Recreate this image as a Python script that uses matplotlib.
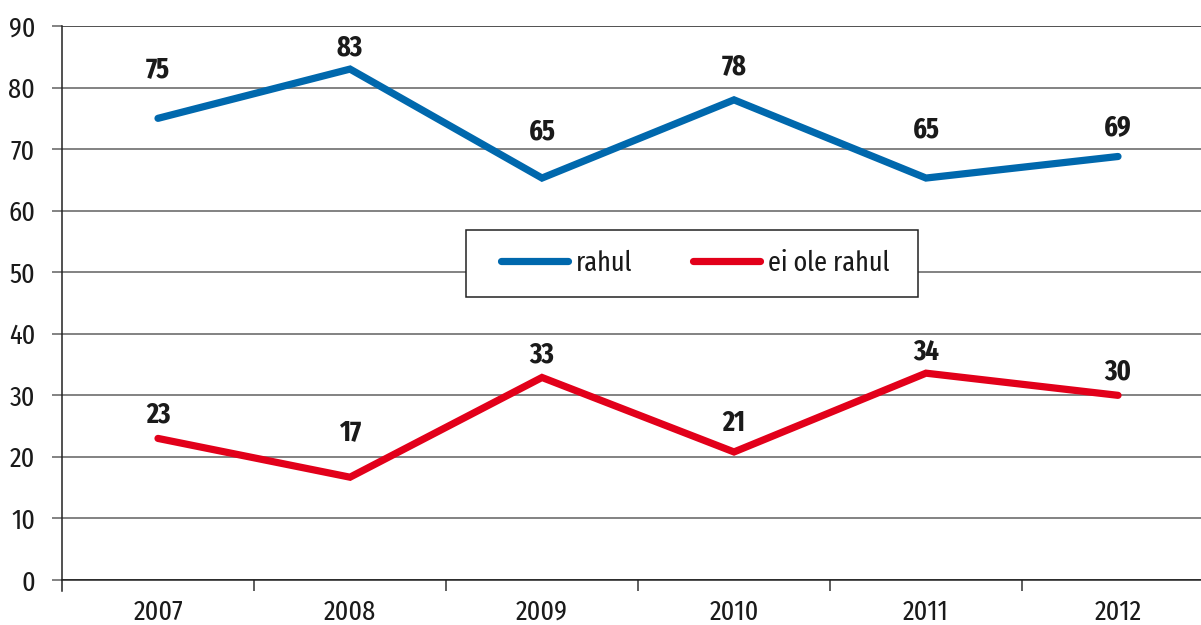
import matplotlib
matplotlib.use("Agg")
import matplotlib.pyplot as plt
from matplotlib.patches import Rectangle

years = ["2007", "2008", "2009", "2010", "2011", "2012"]
rahul = [75, 83, 65.3, 78, 65.3, 68.8]
ei_ole_rahul = [23, 16.7, 32.9, 20.8, 33.6, 30]
series_names = ["rahul", "ei ole rahul"]
y_ticks = [0, 10, 20, 30, 40, 50, 60, 70, 80, 90]

# label offsets above points (pixels)
rahul_label_offsets = [49, 21, 46, 33, 48, 29]
ei_label_offsets = [24, 45, 23, 29, 21, 24]

plt.rcParams['font.family'] = ['Fira Sans Extra Condensed', 'DejaVu Sans']
FS = 20.5

W, H = 1201, 625
fig = plt.figure(figsize=(W / 100, H / 100), dpi=100)
left, right, bottom, top = 62, 1201, 580, 26
ax = fig.add_axes([left / W, 1 - bottom / H, (right - left) / W, (bottom - top) / H])

blue = "#0068ad"
red = "#e2001a"
x = list(range(len(years)))
px_per_cat = 192.0
ax.set_xlim(-0.5, -0.5 + (right - left) / px_per_cat)
ax.set_ylim(0, 90)

ax.plot(x, rahul, color=blue, lw=5.2, solid_capstyle='round', solid_joinstyle='miter', label=series_names[0], zorder=3)
ax.plot(x, ei_ole_rahul, color=red, lw=5.2, solid_capstyle='round', solid_joinstyle='miter', label=series_names[1], zorder=3)

for vals, offs in ((rahul, rahul_label_offsets), (ei_ole_rahul, ei_label_offsets)):
    for xi, v, o in zip(x, vals, offs):
        ax.annotate(f"{round(v):d}", (xi, v), xytext=(0, o * 0.72), textcoords='offset points',
                    ha='center', va='center', fontsize=FS, fontweight='bold', color='#1a1a1a', zorder=4)

# grid
for t in y_ticks:
    ax.axhline(t, color='#606060' if t not in (0, 90) else '#222222', lw=1.1, zorder=1)
ax.set_yticks(y_ticks)
ax.set_yticklabels([str(t) for t in y_ticks])
ax.tick_params(axis='y', length=7.2, width=1.1, color='#606060', labelsize=FS, pad=12.2, labelcolor='#1a1a1a')

ax.set_xticks(x)
ax.set_xticklabels(years)
ax.set_xticks([i + 0.5 for i in range(len(years) - 1)], minor=True)
ax.tick_params(axis='x', which='major', length=0, labelsize=FS, pad=13.2, labelcolor='#1a1a1a')
ax.tick_params(axis='x', which='minor', length=8, width=1.1, color='#333333')

for s in ['top', 'right']:
    ax.spines[s].set_visible(False)
ax.spines['left'].set_color('#222222')
ax.spines['left'].set_linewidth(1.1)
ax.spines['left'].set_bounds(-11 / 6.156, 90)
ax.spines['bottom'].set_color('#222222')
ax.spines['bottom'].set_linewidth(1.1)

# legend box
box = Rectangle((466 / W, 1 - 297 / H), 452 / W, 67 / H, transform=fig.transFigure,
                facecolor='white', edgecolor='#222222', lw=1.1, clip_on=False, zorder=4.5)
ax.add_patch(box)
leg = ax.legend(loc='center', bbox_to_anchor=(695 / W, 1 - 263.5 / H), bbox_transform=fig.transFigure,
                ncol=2, fontsize=FS, handlelength=2.35, handletextpad=0.28, columnspacing=2.14,
                frameon=False, borderpad=0)
leg.set_zorder(5)
for h in leg.get_lines():
    h.set_solid_capstyle('round')
for t in leg.get_texts():
    t.set_color('#1a1a1a')

fig.savefig("out.png", dpi=100)
